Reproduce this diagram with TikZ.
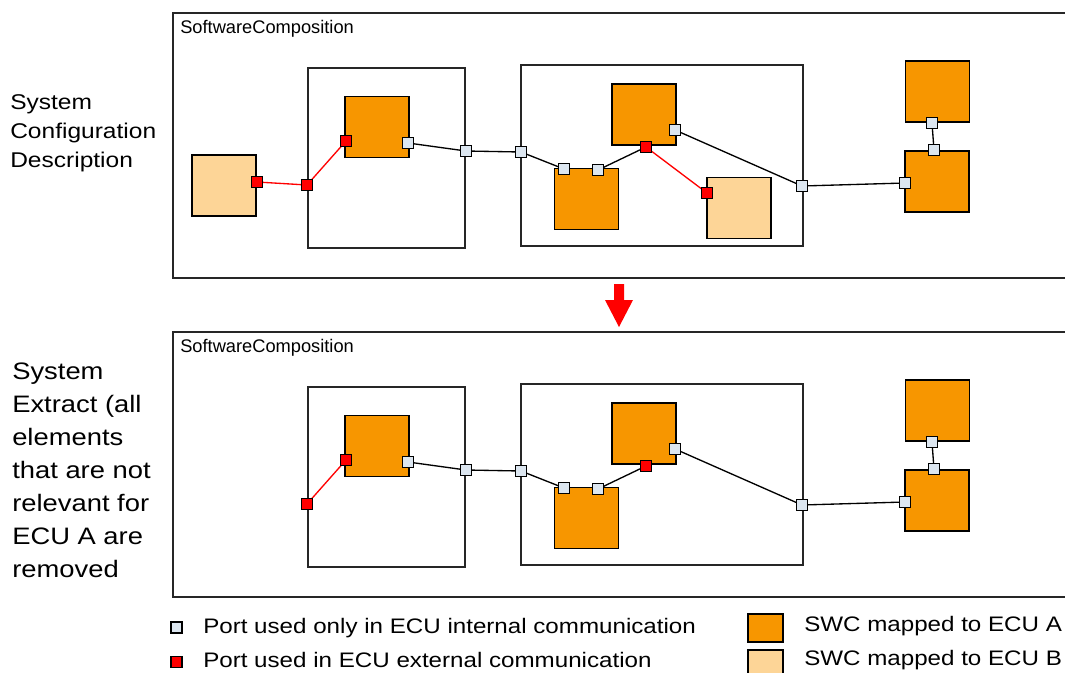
\documentclass[tikz,border=0pt]{standalone}
\usepackage{fontspec}
\setmainfont{Liberation Sans}
\newfontfamily\widefont[FakeStretch=1.15]{Liberation Sans}
\pgfdeclarelayer{bg}
\pgfsetlayers{bg,main}
\definecolor{swcA}{HTML}{F79600}
\definecolor{swcB}{HTML}{FDD597}
\definecolor{portI}{HTML}{DCE6F0}
\definecolor{portE}{HTML}{FF0000}
\tikzset{
  box/.style={draw=black, line width=1.1pt, inner sep=0pt, minimum width=48pt, minimum height=45.75pt},
  swca/.style={box, fill=swcA},
  swcb/.style={box, fill=swcB},
  port/.style={draw=black, line width=1pt, inner sep=0pt, minimum size=8.25pt, fill=portI},
  eport/.style={port, fill=portE},
  frame/.style={draw=black!85, line width=1.2pt, inner sep=0pt},
  wire/.style={line width=1pt, black},
  rwire/.style={line width=1pt, red},
  lbla/.style={anchor=base west, inner sep=0pt, font=\widefont\fontsize{16}{19}\selectfont},
  lblb/.style={anchor=base west, inner sep=0pt, font=\widefont\fontsize{17.85}{21}\selectfont},
  legtext/.style={anchor=base west, inner sep=0pt, font=\widefont\fontsize{15.75}{18}\selectfont},
}
\newcommand\swcCore{%
  \node[frame, line width=1.5pt, minimum width=676.5pt, minimum height=198.75pt] (comp) at (624,145.5) {};
  \node[anchor=base west, inner sep=0pt, font=\fontsize{13.7}{16}\selectfont] (title) at (180,33) {SoftwareComposition};
  \node[frame, minimum width=117.75pt, minimum height=135pt] (inner1) at (386.5,158) {};
  \node[frame, minimum width=211.5pt, minimum height=135.75pt] (inner2) at (662,155.5) {};
  \node[swca] (o1) at (377,127) {};
  \node[swca] (o3) at (586.5,199) {};
  \node[swca] (o2) at (644,114.5) {};
  \node[swca] (o4) at (937.5,91.5) {};
  \node[swca] (o5) at (937,181.5) {};
  \node[eport] (e1) at (307,185) {};
  \node[eport] (e2) at (346,141) {};
  \node[port] (i1) at (408,143) {};
  \node[port] (i2) at (466,151) {};
  \node[port] (i3) at (521,152) {};
  \node[port] (i4) at (564,169) {};
  \node[port] (i5) at (598,170) {};
  \node[eport] (e3) at (646,147) {};
  \node[port] (i6) at (675,130) {};
  \node[port] (i7) at (802,186) {};
  \node[port] (i8) at (905,183) {};
  \node[port] (i9) at (932,123) {};
  \node[port] (i10) at (934,150) {};
  \begin{pgfonlayer}{bg}
    \draw[rwire] (e1.center) -- (e2.center);
    \draw[wire] (i1.center) -- (i2.center) -- (i3.center) -- (i4.center);
    \draw[wire] (i5.center) -- (e3.center);
    \draw[wire] (i6.center) -- (i7.center) -- (i8.center);
    \draw[wire] (i9.center) -- (i10.center);
  \end{pgfonlayer}
}
\begin{document}
\begin{tikzpicture}[x=0.75pt,y=-0.75pt]
\useasboundingbox (0,0) rectangle (1065,672);
\clip (0,0) rectangle (1065,672);

% top diagram
\begin{scope}[name prefix=t-]
  \swcCore
  \node[swcb] (b1) at (224,185.5) {};
  \node[swcb] (b2) at (739,208) {};
  \node[eport] (eb1) at (257,182) {};
  \node[eport] (eb2) at (707,193) {};
  \begin{pgfonlayer}{bg}
    \draw[rwire] (eb1.center) -- (e1.center);
    \draw[rwire] (e3.center) -- (eb2.center);
  \end{pgfonlayer}
\end{scope}

% bottom diagram
\begin{scope}[name prefix=b-, yshift=-239.25pt]
  \swcCore
\end{scope}

% arrow
\fill[red] (614,284) -- (624,284) -- (624,300) -- (633,300) -- (619,327) -- (605,300) -- (614,300) -- cycle;

% left labels
\node[lbla] (la1) at (10,109) {System};
\node[lbla] (la2) at (10,138) {Configuration};
\node[lbla] (la3) at (10,167) {Description};

\node[lblb] (lb1) at (12,379) {System};
\node[lblb] (lb2) at (12,412) {Extract (all};
\node[lblb] (lb3) at (12,445) {elements};
\node[lblb] (lb4) at (12,478) {that are not};
\node[lblb] (lb5) at (12,511) {relevant for};
\node[lblb] (lb6) at (12,544) {ECU A are};
\node[lblb] (lb7) at (12,577) {removed};

% legend
\node[port, line width=0.9pt] (legI) at (176.5,627.5) {};
\node[eport, line width=0.9pt] (legE) at (176.5,662) {};
\node[legtext] (legIt) at (203,633) {Port used only in ECU internal communication};
\node[legtext] (legEt) at (203,667) {Port used in ECU external communication};
\node[draw=black, line width=1.1pt, fill=swcA, inner sep=0pt, minimum width=26.25pt, minimum height=21pt] (legA) at (765.5,628) {};
\node[draw=black, line width=1.1pt, fill=swcB, inner sep=0pt, minimum width=26.25pt, minimum height=21pt] (legB) at (765.5,664) {};
\node[legtext] (legAt) at (804,631) {SWC mapped to ECU A};
\node[legtext] (legBt) at (804,665) {SWC mapped to ECU B};
\end{tikzpicture}
\end{document}
